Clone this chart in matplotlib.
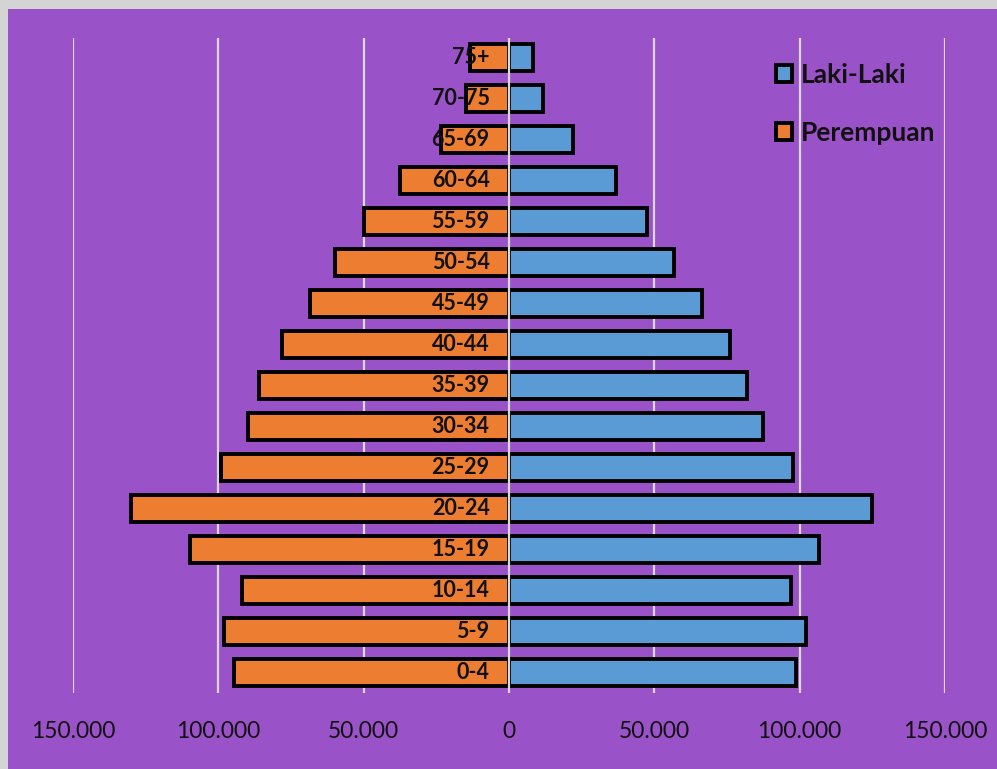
import numpy as np
import matplotlib.pyplot as plt
from matplotlib.patches import Rectangle, Patch

# age groups, bottom to top
umur = ['0-4', '5-9', '10-14', '15-19', '20-24', '25-29', '30-34', '35-39',
        '40-44', '45-49', '50-54', '55-59', '60-64', '65-69', '70-75', '75+']
laki = [98800, 102200, 97000, 106700, 124900, 97700, 87400, 81900,
        76000, 66400, 56800, 47500, 36800, 22000, 11700, 8200]
perempuan = [94600, 98100, 91900, 109800, 130100, 99100, 89800, 86000,
             78100, 68500, 59900, 49900, 37500, 23400, 14800, 13400]
tick_pos = [-150000, -100000, -50000, 0, 50000, 100000, 150000]
tick_lbl = ['150.000', '100.000', '50.000', '0', '50.000', '100.000', '150.000']

ungu = '#9A52C8'
abu = '#D9D9D9'
biru = '#5B9BD5'
oranye = '#ED7D31'

fig = plt.figure(figsize=(9.97, 7.69), dpi=100, facecolor='#D4D4D4')
fig.add_artist(Rectangle((8/997, 0), 1, (769-9)/769, transform=fig.transFigure,
                         facecolor=ungu, edgecolor='none', zorder=-10))

ax = fig.add_axes([73/997, 76/769, 872/997, 655/769])
ax.set_facecolor('none')

y = np.arange(len(umur))
ax.barh(y, laki, height=0.66, color=biru, edgecolor='black', linewidth=2.8, zorder=2)
ax.barh(y, -np.array(perempuan), height=0.66, color=oranye, edgecolor='black',
        linewidth=2.8, zorder=2)

for g in tick_pos:
    if g != 0:
        ax.axvline(g, color=abu, linewidth=1.6, zorder=1)
ax.axvline(0, color=abu, linewidth=1.6, zorder=3)

for yy, s in zip(y, umur):
    ax.annotate(s, (0, yy), xytext=(-14, 0), textcoords='offset points',
                ha='right', va='center', fontsize=15.5, fontweight='bold',
                family='Lato', color='#111111', zorder=4)

ax.set_xlim(-150000, 150000)
ax.set_ylim(-0.49, 15.47)
ax.set_yticks([])
ax.set_xticks(tick_pos)
ax.set_xticklabels(tick_lbl, fontsize=16.5, family='Lato', color='#111111')
ax.tick_params(axis='x', length=0, pad=20)
for sp in ax.spines.values():
    sp.set_visible(False)

handles = [Patch(facecolor=biru, edgecolor='black', linewidth=2.8),
           Patch(facecolor=oranye, edgecolor='black', linewidth=2.8)]
leg = ax.legend(handles, ['Laki-Laki', 'Perempuan'], loc='upper left',
                bbox_to_anchor=(752/997, 1 - 39/769), bbox_transform=fig.transFigure,
                frameon=False, handlelength=0.6, handleheight=0.6,
                handletextpad=0.35, labelspacing=1.3,
                prop={'family': 'Lato', 'weight': 'bold', 'size': 19})
for t in leg.get_texts():
    t.set_color('#111111')

plt.savefig('out.png', dpi=100, facecolor=fig.get_facecolor())
